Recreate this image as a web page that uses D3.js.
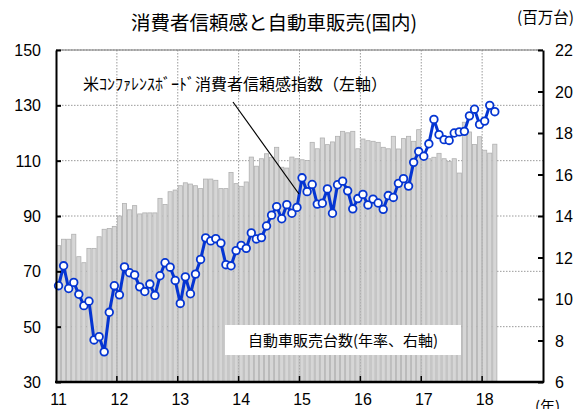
<!DOCTYPE html>
<html>
<head>
<meta charset="utf-8">
<script src="https://cdn.jsdelivr.net/npm/d3@7"></script>
<style>
body { margin:0; background:#fff; }
svg { display:block; }
</style>
</head>
<body>
<div id="chart"></div>
<script>
var years = [2011,2012,2013,2014,2015,2016,2017,2018];
var yearLabels = ["11","12","13","14","15","16","17","18"];

// US consumer confidence index (left axis), monthly from 2011/01
var confidence = [
	64.8, 72.0, 63.8, 66.0, 61.7, 57.6, 59.2, 45.2, 46.4, 40.9, 55.2, 64.8,
	61.5, 71.6, 69.5, 68.7, 64.4, 62.7, 65.4, 61.3, 68.4, 73.1, 71.5, 66.7,
	58.4, 68.0, 61.9, 69.0, 74.3, 82.1, 81.0, 81.8, 80.2, 72.4, 72.0, 77.5,
	79.4, 78.3, 83.9, 81.7, 82.2, 86.4, 90.3, 93.4, 89.0, 94.1, 91.0, 93.1,
	103.8, 98.8, 101.4, 94.3, 94.6, 99.8, 91.0, 101.3, 102.6, 99.1, 92.6, 96.3,
	97.8, 94.0, 96.1, 94.7, 92.4, 97.4, 96.7, 101.8, 103.5, 100.8, 109.4, 113.3,
	111.6, 116.1, 124.9, 119.4, 117.6, 117.3, 120.0, 120.4, 120.6, 126.2, 128.6, 123.1,
	124.3, 130.0, 127.7
];

// auto sales, annual rate, millions (right axis)
var sales = [
	12.57, 12.88, 12.88, 13.12, 12.04, 11.75, 12.44, 12.44, 13.0, 13.36, 13.4, 13.5,
	14.0, 14.6, 14.3, 14.5, 14.1, 14.15, 14.15, 14.15, 14.85, 14.55, 15.17, 15.25,
	15.46, 15.6, 15.54, 15.46, 15.32, 15.78, 15.78, 15.72, 15.32, 15.32, 16.1, 15.56,
	15.43, 15.64, 16.84, 16.4, 16.76, 17.0, 16.83, 17.31, 16.35, 16.31, 16.84, 16.76,
	16.71, 16.67, 17.55, 17.24, 17.76, 17.44, 17.57, 17.84, 18.08, 18.01, 18.08, 17.24,
	17.71, 17.63, 17.6, 17.55, 17.31, 17.24, 17.84, 17.23, 17.73, 17.84, 17.6, 18.16,
	16.99, 16.76, 16.83, 17.02, 16.76, 16.63, 16.76, 16.07, 18.52, 18.05, 17.45, 17.82,
	17.17, 17.03, 17.46
];

var leftTicks = [30,50,70,90,110,130,150];
var rightTicks = [6,8,10,12,14,16,18,20,22];

// one category per month, 2011/01 .. 2018/12
var months = [];
years.forEach(function(y) {
	for (var m = 1; m <= 12; m++) months.push(y + "-" + (m < 10 ? "0" + m : m));
});

var W = 585, H = 409;
var pL = 56, pR = 543, pT = 50, pB = 382;
var jp = "'Noto Sans CJK JP', sans-serif";
var num = "'Liberation Sans', Arial, sans-serif";

var svg = d3.select("#chart").append("svg")
	.attr("width", W)
	.attr("height", H);

var x = d3.scaleBand().domain(months).range([pL, pR]).paddingInner(0.18).paddingOuter(0.09);
var yL = d3.scaleLinear().domain([30,150]).range([pB, pT]);
var yR = d3.scaleLinear().domain([6,22]).range([pB, pT]);
var step = x.step();

function yearStart(d) {
	return x(d + "-01") - (step - x.bandwidth())/2;
}

// gridlines
svg.selectAll("line.hgrid")
	.data(leftTicks.slice(1))
	.enter().append("line")
		.attr("class","hgrid")
		.attr("x1", pL).attr("x2", pR)
		.attr("y1", function(d){ return yL(d); })
		.attr("y2", function(d){ return yL(d); })
		.attr("stroke","#9a9a9a")
		.attr("stroke-width",1)
		.attr("stroke-dasharray","1.5,1.5");

svg.selectAll("line.vgrid")
	.data(years.slice(1))
	.enter().append("line")
		.attr("class","vgrid")
		.attr("x1", yearStart)
		.attr("x2", yearStart)
		.attr("y1", pT).attr("y2", pB)
		.attr("stroke","#9a9a9a")
		.attr("stroke-width",1)
		.attr("stroke-dasharray","1.5,1.5");

// bars
svg.selectAll("rect.bar")
	.data(sales)
	.enter().append("rect")
		.attr("class","bar")
		.attr("x", function(d,i){ return x(months[i]); })
		.attr("width", x.bandwidth())
		.attr("y", function(d){ return yR(d); })
		.attr("height", function(d){ return yR(6) - yR(d); })
		.attr("fill","#d6d6d6")
		.attr("stroke","#b0b0b0")
		.attr("stroke-width",0.8);

// label box for bars
svg.append("rect")
	.attr("x",225).attr("y",325)
	.attr("width",236).attr("height",30)
	.attr("fill","#fff");
svg.append("text")
	.attr("x",343).attr("y",346)
	.attr("text-anchor","middle")
	.attr("font-family",jp)
	.attr("font-size",15)
	.attr("fill","#000")
	.text("自動車販売台数(年率、右軸)");

// line
var line = d3.line()
	.x(function(d,i){ return x(months[i]) + x.bandwidth()/2; })
	.y(function(d){ return yL(d); });

svg.append("path")
	.datum(confidence)
	.attr("d", line)
	.attr("fill","none")
	.attr("stroke","#0535d2")
	.attr("stroke-width",3)
	.attr("stroke-linejoin","round");

svg.selectAll("circle.pt")
	.data(confidence)
	.enter().append("circle")
		.attr("class","pt")
		.attr("cx", function(d,i){ return x(months[i]) + x.bandwidth()/2; })
		.attr("cy", function(d){ return yL(d); })
		.attr("r", 3.8)
		.attr("fill","#fff")
		.attr("stroke","#0535d2")
		.attr("stroke-width",1.8);

// annotation for line
svg.append("line")
	.attr("x1",233).attr("y1",102)
	.attr("x2",299).attr("y2",194)
	.attr("stroke","#000")
	.attr("stroke-width",1.2);
svg.append("text")
	.attr("x",83).attr("y",90)
	.attr("font-family",jp)
	.attr("font-size",16)
	.attr("fill","#000")
	.text("米ｺﾝﾌｧﾚﾝｽﾎﾞｰﾄﾞ消費者信頼感指数（左軸）");

// frame
svg.append("line")
	.attr("x1",pL).attr("x2",pR)
	.attr("y1",pT).attr("y2",pT)
	.attr("stroke","#777").attr("stroke-width",1);

svg.append("g")
	.attr("transform","translate(" + pL + ",0)")
	.call(d3.axisRight(yL).tickValues(leftTicks).tickSize(5).tickSizeOuter(0).tickFormat(""))
	.call(function(g){ g.selectAll("path,line").attr("stroke","#000").attr("stroke-width",2); });

svg.append("g")
	.attr("transform","translate(" + pR + ",0)")
	.call(d3.axisLeft(yR).tickValues(rightTicks).tickSize(5).tickSizeOuter(0).tickFormat(""))
	.call(function(g){ g.selectAll("path,line").attr("stroke","#000").attr("stroke-width",2); });

svg.append("line")
	.attr("x1",pL - 1).attr("x2",pR + 1)
	.attr("y1",pB).attr("y2",pB)
	.attr("stroke","#000").attr("stroke-width",2.5);

svg.selectAll("line.xtick")
	.data(years.slice(1))
	.enter().append("line")
		.attr("class","xtick")
		.attr("x1", yearStart)
		.attr("x2", yearStart)
		.attr("y1", pB - 6).attr("y2", pB)
		.attr("stroke","#000").attr("stroke-width",1.5);

// tick labels
svg.selectAll("text.yl")
	.data(leftTicks)
	.enter().append("text")
		.attr("class","yl")
		.attr("x",41)
		.attr("y", function(d){ return yL(d) + 6; })
		.attr("text-anchor","end")
		.attr("font-family",num)
		.attr("font-size",16)
		.text(function(d){ return d; });

svg.selectAll("text.yr")
	.data(rightTicks)
	.enter().append("text")
		.attr("class","yr")
		.attr("x",555)
		.attr("y", function(d){ return yR(d) + 6; })
		.attr("font-family",num)
		.attr("font-size",16)
		.text(function(d){ return d; });

svg.selectAll("text.xl")
	.data(years)
	.enter().append("text")
		.attr("class","xl")
		.attr("x", function(d){ return x(d + "-01") + x.bandwidth()/2; })
		.attr("y",405)
		.attr("text-anchor","middle")
		.attr("font-family",num)
		.attr("font-size",16)
		.text(function(d,i){ return yearLabels[i]; });

// titles and units
svg.append("text")
	.attr("x",274).attr("y",30)
	.attr("text-anchor","middle")
	.attr("font-family",jp)
	.attr("font-size",19.5)
	.text("消費者信頼感と自動車販売(国内)");

svg.append("text")
	.attr("x",517).attr("y",23)
	.attr("font-family",jp)
	.attr("font-size",15.5)
	.text("(百万台)");

svg.append("text")
	.attr("x",535).attr("y",412)
	.attr("font-family",jp)
	.attr("font-size",15)
	.text("(年)");
</script>
</body>
</html>
